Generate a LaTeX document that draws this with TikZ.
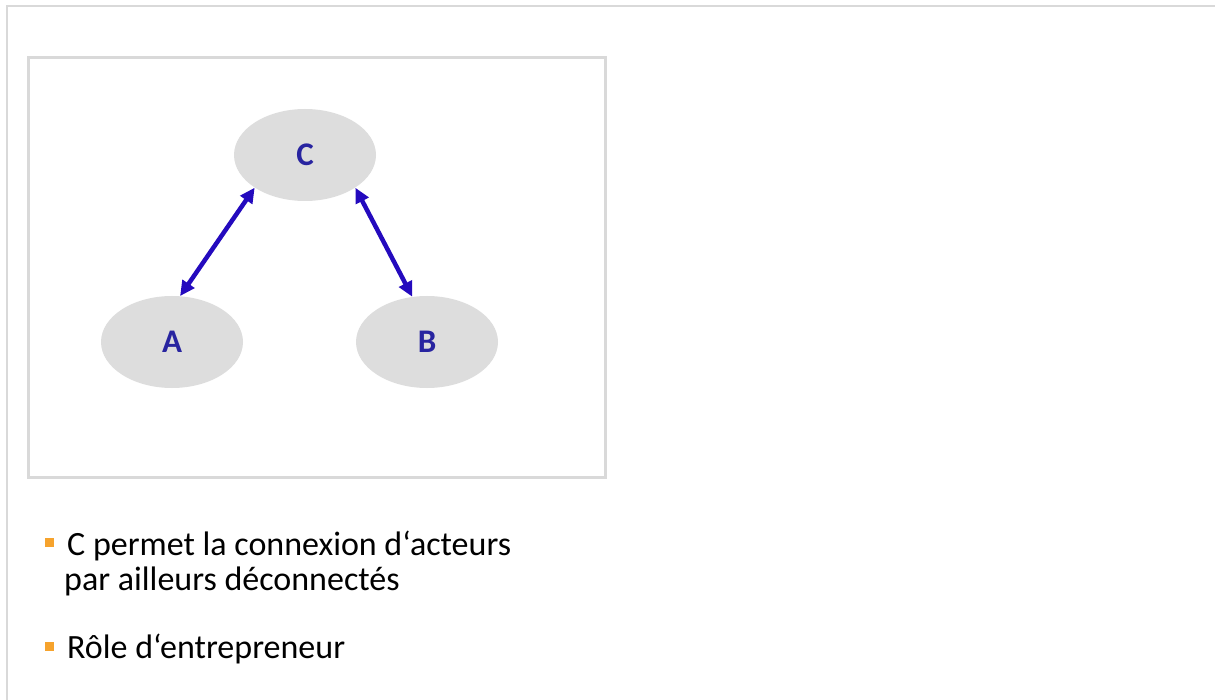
\documentclass[tikz,border=0pt]{standalone}
\usepackage{fontspec}
\setmainfont{Carlito}
\usepackage{tikz}
\usetikzlibrary{shapes.geometric,arrows.meta}
\definecolor{node-grey}{RGB}{221,221,221}
\definecolor{frame-grey}{RGB}{217,217,217}
\definecolor{label-blue}{RGB}{40,36,160}
\definecolor{arrow-blue}{RGB}{36,10,190}
\definecolor{bullet-orange}{RGB}{246,163,45}

\begin{document}
\begin{tikzpicture}[x=1pt,y=-1pt,>={Triangle[length=15pt,width=14pt]},
	actor/.style={ellipse,fill=node-grey,minimum width=142pt,minimum height=92pt,
		inner sep=0pt,text=label-blue,font=\fontsize{33}{38}\selectfont\bfseries},
	link/.style={<->,line width=4.5pt,arrow-blue},
	bullet/.style={fill=bullet-orange,minimum size=9pt,inner sep=0pt},
	item/.style={anchor=base west,inner sep=0pt,font=\fontsize{34}{40}\selectfont}]
	
	\useasboundingbox (0,0) rectangle (1215,700);
	
	% slide frame, only top and left are seen
	\draw[frame-grey,line width=2pt] (7,700) -- (7,6) -- (1215,6);
	% box round the graph
	\draw[frame-grey,line width=3pt] (28,58) rectangle (605,477);
	
	\node[actor] (C) at (305,155) {C};
	\node[actor] (A) at (172,342) {A};
	\node[actor] (B) at (427,342) {B};
	
	\draw[link] (A.80) -- (C.213);
	\draw[link] (C.327) -- (B.108);
	
	% bullet list
	\node[bullet] (b1) at (49,542) {};
	\node[item] (t1) at (67,555) {C permet la connexion d‘acteurs};
	\node[item] (t2) at (64,590) {par ailleurs déconnectés};
	\node[bullet] (b2) at (49,646) {};
	\node[item] (t3) at (67,658) {Rôle d‘entrepreneur};
	
\end{tikzpicture}
\end{document}
